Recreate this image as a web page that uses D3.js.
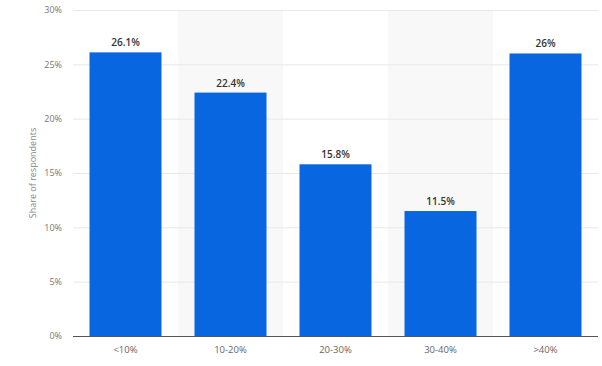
<!DOCTYPE html>
<html><head><meta charset="utf-8">
<script src="https://cdn.jsdelivr.net/npm/d3@7"></script>
<style>body{margin:0;background:#fff}svg{display:block}</style>
</head><body>
<svg id="c" width="602" height="366"></svg>
<script>
const categories = ["<10%", "10-20%", "20-30%", "30-40%", ">40%"];
const values = [26.1, 22.4, 15.8, 11.5, 26];
const valueLabels = ["26.1%", "22.4%", "15.8%", "11.5%", "26%"];
const yTicks = [0, 5, 10, 15, 20, 25, 30];

const svg = d3.select("#c");
const m = {l: 73, r: 4, t: 10, b: 30};
const W = 602, H = 366;
const x = d3.scaleBand().domain(categories).range([m.l, W - m.r]).paddingInner(0).paddingOuter(0);
const y = d3.scaleLinear().domain([0, 30]).range([H - m.b, m.t]);
const font = "'Open Sans', 'Noto Sans', sans-serif";

// alternating shaded bands
svg.append("g").selectAll("rect").data(categories.filter((d, i) => i % 2 === 1)).join("rect")
  .attr("x", d => x(d)).attr("y", m.t).attr("width", x.bandwidth()).attr("height", y(0) - m.t)
  .attr("fill", "#f8f8f8");

// gridlines
svg.append("g").selectAll("line").data(yTicks.filter(t => t > 0)).join("line")
  .attr("x1", m.l).attr("x2", W - m.r).attr("y1", d => y(d) + 0.5).attr("y2", d => y(d) + 0.5)
  .attr("stroke", "#e8e8e8").attr("stroke-width", 1);

// y tick labels
const yAxis = svg.append("g").attr("transform", `translate(${m.l},0)`)
  .call(d3.axisLeft(y).tickValues(yTicks).tickFormat(d => d + "%").tickSize(0).tickPadding(11));
yAxis.select(".domain").remove();
yAxis.selectAll("text").attr("fill", "#777").attr("font-size", 9).attr("font-family", font);

// bars
const bw = 72;
svg.append("g").selectAll("rect").data(values).join("rect")
  .attr("x", (d, i) => x(categories[i]) + (x.bandwidth() - bw) / 2)
  .attr("y", d => y(d)).attr("width", bw).attr("height", d => y(0) - y(d))
  .attr("fill", "#0866e0");

// value labels
svg.append("g").selectAll("text").data(values).join("text")
  .attr("x", (d, i) => x(categories[i]) + x.bandwidth() / 2)
  .attr("y", d => y(d) - 6)
  .attr("text-anchor", "middle").attr("font-size", 10).attr("font-weight", 600)
  .attr("font-family", font).attr("fill", "#333")
  .text((d, i) => valueLabels[i]);

// x axis
const xAxis = svg.append("g").attr("transform", `translate(0,${y(0)})`)
  .call(d3.axisBottom(x).tickSize(0).tickPadding(10));
xAxis.select(".domain").attr("stroke", "#555").attr("stroke-width", 1.2)
  .attr("d", `M${m.l},0.5H${W - m.r}`);
xAxis.selectAll("text").attr("fill", "#666").attr("font-size", 9.5).attr("font-family", font);

// y title
svg.append("text").attr("transform", `translate(36,${(y(0) + y(30)) / 2}) rotate(-90)`)
  .attr("text-anchor", "middle").attr("font-size", 9).attr("font-family", font).attr("fill", "#888")
  .text("Share of respondents");
</script>
</body></html>
